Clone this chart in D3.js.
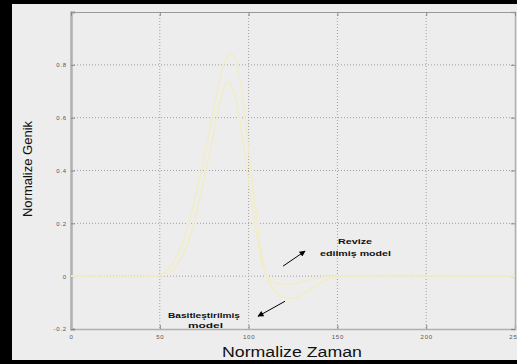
<!DOCTYPE html>
<html><head><meta charset="utf-8">
<script src="https://cdn.jsdelivr.net/npm/d3@7/dist/d3.min.js"></script>
<style>html,body{margin:0;padding:0;background:#000;overflow:hidden}</style>
</head><body>
<svg id="c" width="517" height="364"></svg>
<script>
// ---- data ----
const xTicks = [0, 50, 100, 150, 200, 250];
const yTicks = [-0.2, 0, 0.2, 0.4, 0.6, 0.8];
const yTickLabels = ["-0.2", "0", "0.2", "0.4", "0.6", "0.8"];
const xDomain = [0, 250];
const yDomain = [-0.2, 1.0];

const seriesAx = [0, 45, 50, 55, 60, 65, 70, 75, 80, 84, 87, 89.5, 92, 95, 98, 101, 104, 107, 110, 114, 118, 124, 130, 136, 142, 148, 155, 250];
const seriesAy = [0, 0, 0.005, 0.03, 0.08, 0.17, 0.30, 0.45, 0.62, 0.75, 0.82, 0.845, 0.83, 0.75, 0.60, 0.42, 0.25, 0.10, 0.0, -0.05, -0.075, -0.085, -0.07, -0.045, -0.02, -0.005, 0, 0];

const seriesBx = [0, 48, 53, 58, 63, 68, 72, 76, 80, 84, 86.5, 88.5, 91, 94, 97, 100, 103, 106, 109, 113, 118, 124, 130, 136, 142, 150, 250];
const seriesBy = [0, 0, 0.005, 0.03, 0.08, 0.17, 0.28, 0.40, 0.53, 0.66, 0.72, 0.735, 0.71, 0.63, 0.50, 0.36, 0.22, 0.10, 0.02, -0.02, -0.03, -0.03, -0.02, -0.01, -0.003, 0, 0];

const xLabel = "Normalize Zaman";
const yLabel = "Normalize Genik";
const annRevize = ["Revize", "edilmiş model"];
const annBasit = ["Basitleştirilmiş", "model"];

// ---- layout ----
const svg = d3.select("#c");
const L = 71, R = 515, T = 12, B = 329;
svg.append("rect").attr("x", 0).attr("y", 0).attr("width", 517).attr("height", 364).attr("fill", "#000");
svg.append("rect").attr("x", 12).attr("y", 4).attr("width", 505).attr("height", 356).attr("fill", "#ededed");

const x = d3.scaleLinear().domain(xDomain).range([L, R]);
const y = d3.scaleLinear().domain(yDomain).range([B, T]);

// grid
const g = svg.append("g");
g.selectAll(".gx").data(xTicks.filter(d => d > 0 && d < 250)).join("line")
  .attr("x1", d => x(d)).attr("x2", d => x(d)).attr("y1", T).attr("y2", B)
  .attr("stroke", "#a0a0a0").attr("stroke-width", 1).attr("stroke-dasharray", "1,2");
g.selectAll(".gy").data(yTicks.filter(d => d > -0.2)).join("line")
  .attr("y1", d => y(d)).attr("y2", d => y(d)).attr("x1", L).attr("x2", R)
  .attr("stroke", "#a0a0a0").attr("stroke-width", 1).attr("stroke-dasharray", "1,2");

// axes
const xAxis = d3.axisBottom(x).tickValues(xTicks).tickSize(-4).tickPadding(6).tickFormat(d3.format("d"));
const yAxis = d3.axisLeft(y).tickValues(yTicks).tickSize(-4).tickPadding(4).tickFormat((d, i) => yTickLabels[i]);
const gx = svg.append("g").attr("transform", `translate(0,${B})`).call(xAxis);
const gy = svg.append("g").attr("transform", `translate(${L},0)`).call(yAxis);
const gr = svg.append("g").attr("transform", `translate(${R},0)`).call(d3.axisRight(y).tickValues(yTicks).tickSize(-4).tickFormat(""));
const gt = svg.append("g").attr("transform", `translate(0,${T})`).call(d3.axisTop(x).tickValues(xTicks).tickSize(-4).tickFormat(""));
[gx, gy, gr, gt].forEach(a => {
  a.select(".domain").attr("stroke", "#b0b0b0").attr("stroke-width", 1.5);
  a.selectAll(".tick line").attr("stroke", "#888");
  a.selectAll(".tick text").attr("fill", "#555").attr("font-family", "Arial, Liberation Sans, sans-serif")
    .attr("font-size", 6).attr("letter-spacing", 0.8);
});
gy.select(".domain").attr("stroke-width", 2.5);
gt.select(".domain").attr("stroke", "#999").attr("stroke-width", 1);

// curves
const line = d3.line().x(d => x(d[0])).y(d => y(d[1])).curve(d3.curveCatmullRom.alpha(0.5));
const curves = [d3.zip(seriesAx, seriesAy), d3.zip(seriesBx, seriesBy)];
svg.selectAll(".curve").data(curves).join("path")
  .attr("d", line).attr("fill", "none").attr("stroke", "#f0edc6").attr("stroke-width", 1.5);

// labels
svg.append("text").attr("x", 222).attr("y", 357).attr("font-family", "Arial, Liberation Sans, sans-serif")
  .attr("font-size", 14).attr("fill", "#111").attr("textLength", 140).attr("lengthAdjust", "spacingAndGlyphs").text(xLabel);
svg.append("text").attr("transform", "translate(32,169) rotate(-90)").attr("text-anchor", "middle")
  .attr("font-family", "Arial, Liberation Sans, sans-serif").attr("font-size", 13).attr("fill", "#111").text(yLabel);

// annotations
const defs = svg.append("defs");
defs.append("marker").attr("id", "ah").attr("viewBox", "0 0 10 10").attr("refX", 9).attr("refY", 5)
  .attr("markerWidth", 8).attr("markerHeight", 6).attr("orient", "auto")
  .append("path").attr("d", "M0,0 L10,5 L0,10 Z").attr("fill", "#000");
const arrows = [[[119.4, 0.038], [131.8, 0.095]], [[120.5, -0.095], [105.3, -0.152]]];
svg.selectAll(".arr").data(arrows).join("line")
  .attr("x1", d => x(d[0][0])).attr("y1", d => y(d[0][1]))
  .attr("x2", d => x(d[1][0])).attr("y2", d => y(d[1][1]))
  .attr("stroke", "#000").attr("stroke-width", 1).attr("marker-end", "url(#ah)");

const annStyle = s => s.attr("font-family", "Arial, Liberation Sans, sans-serif").attr("font-size", 7.5)
  .attr("font-weight", "bold").attr("fill", "#111").attr("lengthAdjust", "spacingAndGlyphs");
annStyle(svg.append("text").attr("x", 338).attr("y", 244).attr("textLength", 34).text(annRevize[0]));
annStyle(svg.append("text").attr("x", 320).attr("y", 256).attr("textLength", 71).text(annRevize[1]));
annStyle(svg.append("text").attr("x", 168).attr("y", 318).attr("textLength", 72).text(annBasit[0]));
annStyle(svg.append("text").attr("x", 188).attr("y", 328).attr("textLength", 35).text(annBasit[1]));
</script>
</body></html>
